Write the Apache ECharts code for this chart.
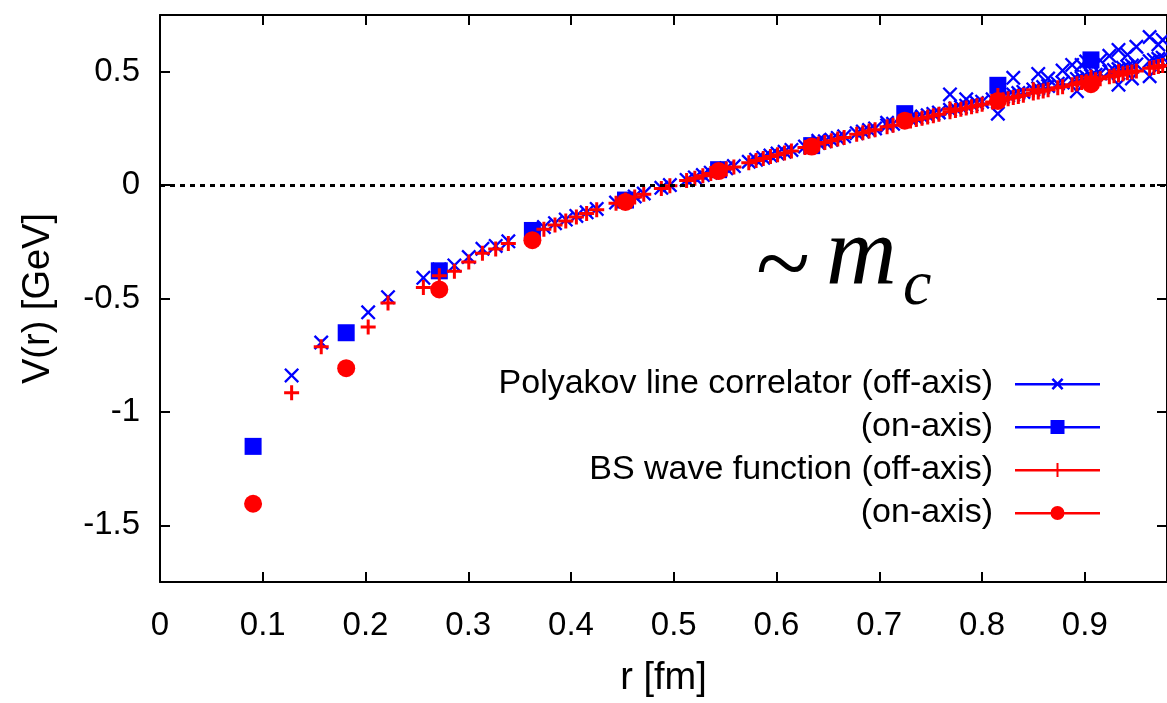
<!DOCTYPE html>
<html>
<head>
<meta charset="utf-8">
<script src="https://cdn.jsdelivr.net/npm/echarts@6/dist/echarts.min.js"></script>
<style>
html,body{margin:0;padding:0;background:#fff;}
#chart{width:1167px;height:703px;}
</style>
</head>
<body>
<div id="chart"></div>
<script>
// ---- data ----
// on-axis distances r [fm]
const rOnAxis = [0.0906, 0.1812, 0.2718, 0.3624, 0.4530, 0.5436, 0.6342, 0.7248, 0.8154, 0.9060];
const polyOnV = [-1.152, -0.651, -0.378, -0.200, -0.066, 0.068, 0.174, 0.315, 0.440, 0.552];
const bsOnV   = [-1.405, -0.807, -0.460, -0.243, -0.074, 0.062, 0.170, 0.284, 0.371, 0.445];

// off-axis distances r [fm]
const rOffAxis = [0.1281,0.1569,0.2026,0.2219,0.2563,0.2718,0.2865,0.3005,0.3138,0.3267,0.3390,0.3736,0.3844,0.3949,0.4052,0.4152,0.4250,0.4438,0.4530,0.4620,0.4708,0.4879,0.4962,0.5125,0.5205,0.5283,0.5360,0.5436,0.5511,0.5585,0.5730,0.5801,0.5871,0.5941,0.6010,0.6078,0.6145,0.6277,0.6342,0.6406,0.6470,0.6533,0.6596,0.6658,0.6780,0.6840,0.6900,0.6959,0.7076,0.7134,0.7304,0.7360,0.7416,0.7471,0.7526,0.7580,0.7688,0.7741,0.7794,0.7846,0.7898,0.7950,0.8001,0.8103,0.8154,0.8204,0.8254,0.8304,0.8353,0.8402,0.8499,0.8547,0.8595,0.8643,0.8737,0.8784,0.8877,0.8923,0.8969,0.9014,0.9060,0.9105,0.9150,0.9239,0.9284,0.9328,0.9372,0.9415,0.9459,0.9502,0.9631,0.9673,0.9716,0.9758];
const polyOffV = [-0.839,-0.694,-0.561,-0.494,-0.409,-0.372,-0.354,-0.317,-0.281,-0.268,-0.248,-0.185,-0.168,-0.152,-0.136,-0.120,-0.105,-0.077,-0.064,-0.050,-0.037,-0.012,0.000,0.023,0.034,0.044,0.055,0.066,0.074,0.084,0.103,0.112,0.121,0.130,0.139,0.147,0.155,0.170,0.178,0.186,0.193,0.200,0.208,0.215,0.229,0.236,0.243,0.250,0.263,0.270,0.290,0.296,0.302,0.308,0.314,0.320,0.332,0.338,0.344,0.350,0.356,0.362,0.368,0.378,0.383,0.390,0.395,0.400,0.406,0.411,0.422,0.427,0.432,0.437,0.447,0.452,0.462,0.468,0.472,0.477,0.482,0.487,0.492,0.502,0.507,0.512,0.517,0.522,0.527,0.532,0.547,0.552,0.557,0.562];
const bsOffV = [-0.916,-0.713,-0.626,-0.520,-0.452,-0.400,-0.380,-0.339,-0.300,-0.282,-0.258,-0.195,-0.176,-0.158,-0.141,-0.125,-0.109,-0.080,-0.066,-0.052,-0.040,-0.015,-0.003,0.020,0.030,0.041,0.051,0.061,0.071,0.080,0.099,0.108,0.117,0.126,0.134,0.142,0.150,0.166,0.173,0.181,0.188,0.195,0.203,0.210,0.224,0.231,0.238,0.244,0.257,0.264,0.283,0.289,0.295,0.300,0.306,0.312,0.323,0.329,0.334,0.340,0.345,0.350,0.356,0.366,0.371,0.376,0.381,0.386,0.391,0.396,0.406,0.411,0.415,0.420,0.429,0.434,0.443,0.447,0.452,0.456,0.461,0.465,0.469,0.478,0.482,0.486,0.491,0.495,0.499,0.503,0.515,0.519,0.523,0.527];

// extra off-axis vectors with the same |r| (scatter seen at large r)
const polyOffExtra = [[0.6406,0.195],[0.7076,0.275],[0.7304,0.300],[0.7688,0.400],[0.7846,0.378],[0.8154,0.315],[0.8154,0.425],[0.8304,0.473],[0.8547,0.490],[0.8643,0.470],[0.8784,0.505],[0.8877,0.530],[0.8923,0.414],[0.8969,0.530],[0.9014,0.545],[0.9060,0.540],[0.9150,0.550],[0.9239,0.570],[0.9328,0.443],[0.9328,0.596],[0.9415,0.575],[0.9459,0.470],[0.9502,0.610],[0.9631,0.480],[0.9631,0.653],[0.9716,0.620],[0.9758,0.640]];
const bsOffExtra = [[0.7688,0.335],[0.8154,0.395],[0.8499,0.420],[0.9060,0.475],[0.9328,0.500]];

const names = ['Polyakov line correlator (off-axis)', '(on-axis)', 'BS wave function (off-axis)', '(on-axis) '];

// ---- build ----
const zip = (xs, ys) => xs.map((x, i) => [x, ys[i]]);
const polyOff = zip(rOffAxis, polyOffV).concat(polyOffExtra);
const polyOn = zip(rOnAxis, polyOnV);
const bsOff = zip(rOffAxis, bsOffV).concat(bsOffExtra);
const bsOn = zip(rOnAxis, bsOnV);

const BLUE = '#0000ff', RED = '#ff0000';
const SANS = 'Liberation Sans';
const TICK_FS = 33, LEG_FS = 34, TITLE_FS = 38;
const xSym = 'path://M11 0 L50 39 L89 0 L100 11 L61 50 L100 89 L89 100 L50 61 L11 100 L0 89 L39 50 L0 11 Z';
const plusSym = 'path://M40 0 L60 0 L60 40 L100 40 L100 60 L60 60 L60 100 L40 100 L40 60 L0 60 L0 40 L40 40 Z';

const lineSeg = 'M0 7 L85 7 L85 9.4 L0 9.4 Z ';
const iconX = 'path://' + lineSeg + 'M38.3 2 L42.5 6.2 L46.7 2 L48.5 3.8 L44.3 8 L48.5 12.2 L46.7 14 L42.5 9.8 L38.3 14 L36.5 12.2 L40.7 8 L36.5 3.8 Z';
const iconSq = 'path://' + lineSeg + 'M35.5 1 L49.5 1 L49.5 15 L35.5 15 Z';
const iconPlus = 'path://' + lineSeg + 'M41.5 1 L43.5 1 L43.5 15 L41.5 15 Z';
const iconCirc = 'path://' + lineSeg + 'M35.5 8 A7 7 0 1 1 49.5 8 A7 7 0 1 1 35.5 8 Z';

const chart = echarts.init(document.getElementById('chart'), null, {renderer: 'canvas'});
const axisLine = {show: true, onZero: false, lineStyle: {color: '#000', width: 2}};
const tickIn = {show: true, inside: true, length: 10, lineStyle: {color: '#000', width: 2}};

chart.setOption({
  animation: false,
  backgroundColor: '#fff',
  grid: {left: 160, right: -2, top: 15, bottom: 115, containLabel: false},
  xAxis: [{
    type: 'value', min: 0, max: 0.98, interval: 0.1, position: 'bottom',
    axisLine: axisLine, axisTick: tickIn, splitLine: {show: false},
    axisLabel: {color: '#000', fontFamily: SANS, fontSize: TICK_FS, margin: 27, showMaxLabel: false},
    name: 'r [fm]', nameLocation: 'middle', nameGap: 78,
    nameTextStyle: {color: '#000', fontFamily: SANS, fontSize: TITLE_FS}
  }, {
    type: 'value', min: 0, max: 0.98, interval: 0.1, position: 'top',
    axisLine: axisLine, axisTick: tickIn, splitLine: {show: false},
    axisLabel: {show: false}
  }],
  yAxis: [{
    type: 'value', min: -1.75, max: 0.75, splitNumber: 5, position: 'left',
    axisLine: axisLine, axisTick: tickIn, splitLine: {show: false},
    axisLabel: {color: '#000', fontFamily: SANS, fontSize: TICK_FS, margin: 20,
      showMinLabel: false, showMaxLabel: false},
    name: 'V(r) [GeV]', nameLocation: 'middle', nameGap: 102, nameRotate: 90,
    nameTextStyle: {color: '#000', fontFamily: SANS, fontSize: TITLE_FS}
  }, {
    type: 'value', min: -1.75, max: 0.75, splitNumber: 5, position: 'right',
    axisLine: axisLine, axisTick: tickIn, splitLine: {show: false},
    axisLabel: {show: false}
  }],
  legend: {
    orient: 'vertical', align: 'right', right: 62, top: 362,
    itemWidth: 85, itemHeight: 16, itemGap: 9,
    formatter: n => n.trim(),
    textStyle: {color: '#000', fontFamily: SANS, fontSize: LEG_FS, padding: [0, 17, 0, 0]},
    selectedMode: false,
    data: [
      {name: names[0], icon: iconX},
      {name: names[1], icon: iconSq},
      {name: names[2], icon: iconPlus},
      {name: names[3], icon: iconCirc}
    ]
  },
  graphic: [
    {type: 'text', left: 756, top: 220, style: {text: '~', font: '100px "Liberation Serif"', fill: '#000'}},
    {type: 'text', left: 826, top: 208, style: {text: 'm', font: 'italic 98px "Liberation Serif"', fill: '#000'}},
    {type: 'text', left: 903, top: 255, style: {text: 'c', font: 'italic 64px "Liberation Serif"', fill: '#000'}}
  ],
  series: [
    {
      name: names[0], type: 'scatter', data: polyOff, symbol: xSym, symbolSize: 15,
      itemStyle: {color: BLUE, opacity: 1},
      markLine: {silent: true, symbol: 'none', label: {show: false},
        lineStyle: {color: '#000', type: [5, 5], width: 3, opacity: 1}, data: [{yAxis: 0}]}
    },
    {name: names[1], type: 'scatter', data: polyOn, symbol: 'rect', symbolSize: 17, itemStyle: {color: BLUE, opacity: 1}},
    {name: names[2], type: 'scatter', data: bsOff, symbol: plusSym, symbolSize: 15, itemStyle: {color: RED, opacity: 1}},
    {name: names[3], type: 'scatter', data: bsOn, symbol: 'circle', symbolSize: 18, itemStyle: {color: RED, opacity: 1}}
  ]
});
</script>
</body>
</html>
